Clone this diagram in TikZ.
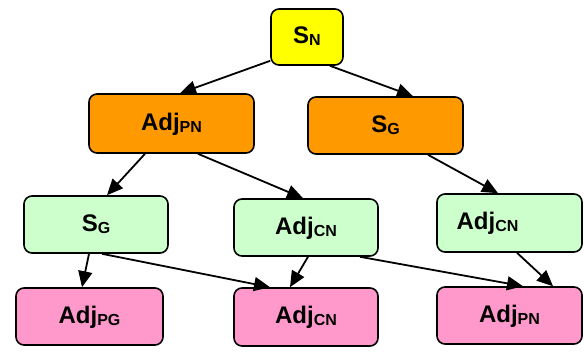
\documentclass[tikz,border=0pt]{standalone}
\usepackage{fontspec}
\setmainfont{Liberation Sans}
\usepackage{xcolor}
\definecolor{Yellow}{RGB}{255,255,0}
\definecolor{Orange}{RGB}{255,153,0}
\definecolor{Green}{RGB}{204,255,204}
\definecolor{Pink}{RGB}{255,153,204}
\definecolor{Black}{RGB}{0,0,0}
\newcommand{\lbl}[2]{\textbf{#1\raisebox{-2pt}{\fontsize{16}{16}\selectfont #2}}}
\usetikzlibrary{arrows.meta}

\begin{document}
\begin{tikzpicture}[x=1pt, y=-1pt,
	box/.style={draw=Black, line width=1.6pt, rounded corners=8pt, inner sep=0pt,
		font=\fontsize{24}{28}\selectfont, text height=18pt, text depth=5pt},
	arr/.style={-{Triangle[length=16pt,width=14pt]}, draw=Black, line width=1.8pt}]
		
		\useasboundingbox (0,0) rectangle (584,356);
		
		% Top
		\node[box, fill=Yellow, minimum width=72pt, minimum height=56pt] (sn) at (307,37) {\lbl{S}{N}};
		
		% Orange row
		\node[box, fill=Orange, minimum width=165pt, minimum height=59pt] (adjpn) at (171.5,123.5) {\lbl{Adj}{PN}};
		\node[box, fill=Orange, minimum width=155pt, minimum height=57pt] (sgo) at (385.5,125.5) {\lbl{S}{G}};
		
		% Green row
		\node[box, fill=Green, minimum width=144pt, minimum height=57pt] (sgg) at (96,224.5) {\lbl{S}{G}};
		\node[box, fill=Green, minimum width=144pt, minimum height=57pt] (adjcnm) at (306,227.5) {\lbl{Adj}{CN}};
		\node[box, fill=Green, minimum width=145pt, minimum height=58pt] (adjcnr) at (509.5,223) {\lbl{Adj}{CN}\hspace*{44pt}};
		
		% Pink row
		\node[box, fill=Pink, minimum width=147pt, minimum height=57pt] (adjpg) at (89.5,316.5) {\lbl{Adj}{PG}};
		\node[box, fill=Pink, minimum width=144pt, minimum height=58pt] (adjcnp) at (306,317) {\lbl{Adj}{CN}};
		\node[box, fill=Pink, minimum width=145pt, minimum height=57pt] (adjpnp) at (509.5,315.5) {\lbl{Adj}{PN}};
		
		% Arrows
		\draw[arr] ([yshift=5pt]sn.south west) -- ([xshift=8.5pt]adjpn.north);
		\draw[arr] ([xshift=23pt]sn.south) -- ([xshift=27.5pt]sgo.north);
		\draw[arr] ([xshift=-26.5pt]adjpn.south) -- ([xshift=11pt]sgg.north);
		\draw[arr] ([xshift=26.5pt]adjpn.south) -- ([xshift=-3pt]adjcnm.north);
		\draw[arr] ([xshift=42.5pt]sgo.south) -- ([xshift=-11.5pt]adjcnr.north);
		
		\draw[arr] ([xshift=-7pt]sgg.south) -- ([xshift=-7.5pt]adjpg.north);
		\draw[arr] ([xshift=6pt]sgg.south) -- ([xshift=-36pt]adjcnp.north);
		\draw[arr] ([xshift=2pt]adjcnm.south) -- ([xshift=-16pt]adjcnp.north);
		\draw[arr] ([xshift=54pt]adjcnm.south) -- ([xshift=13.5pt]adjpnp.north);
		\draw[arr] ([xshift=7.5pt]adjcnr.south) -- ([xshift=43.5pt]adjpnp.north);
		
	\end{tikzpicture}
\end{document}
